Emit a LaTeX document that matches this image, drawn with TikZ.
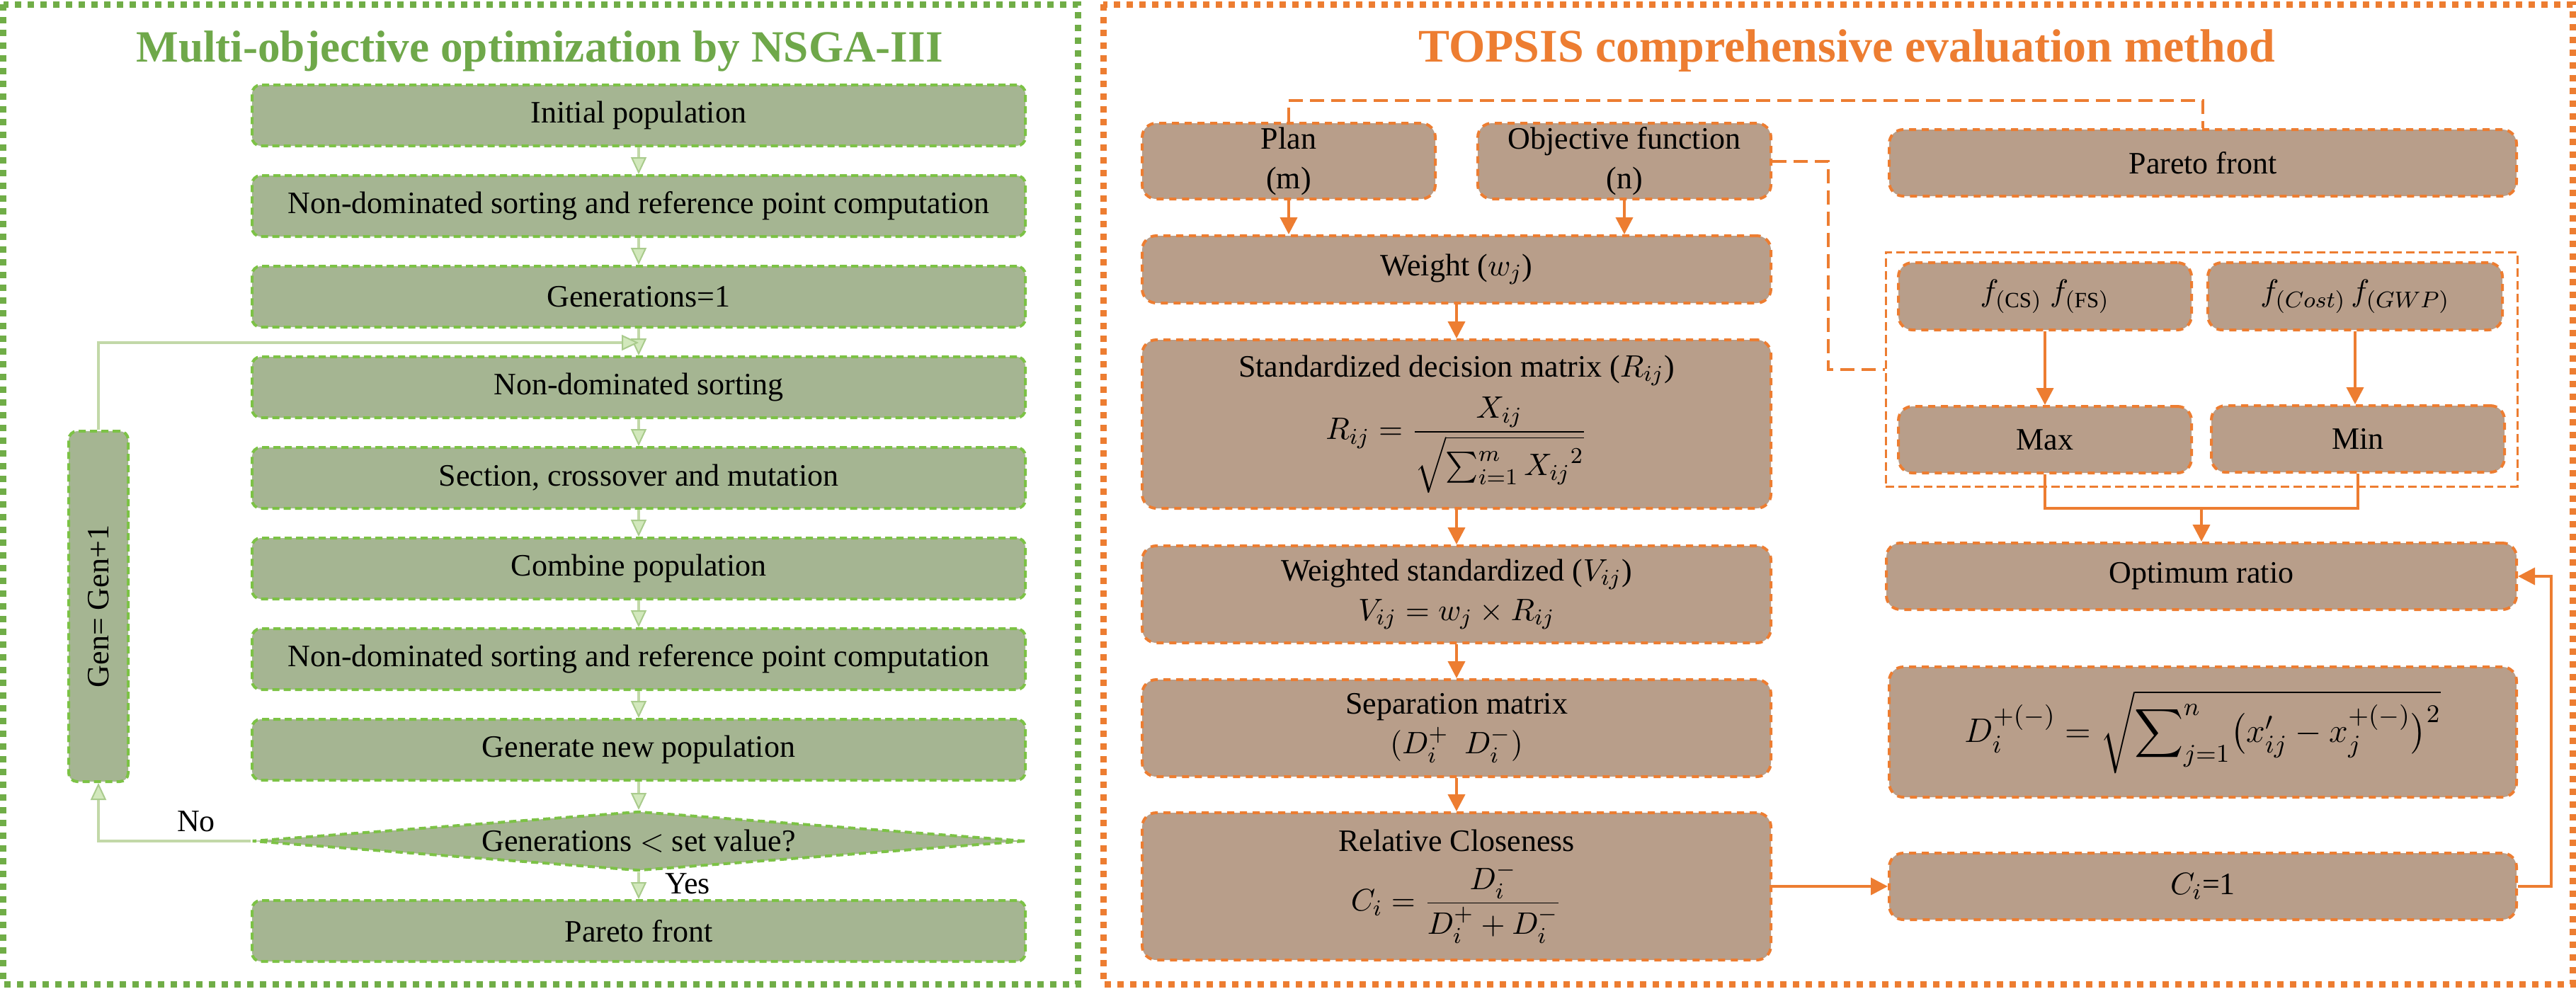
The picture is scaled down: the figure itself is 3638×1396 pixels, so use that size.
\documentclass[tikz,border=0pt]{standalone}
\usepackage{amsmath}
\usepackage{fontspec}
\setmainfont{Liberation Serif}
\usetikzlibrary{arrows.meta,shapes.geometric}
\definecolor{gpanel}{HTML}{70AD47}
\definecolor{gtitle}{HTML}{6FA84A}
\definecolor{gline}{HTML}{7CC245}
\definecolor{gfill}{HTML}{A5B592}
\definecolor{gconn}{HTML}{C2D8A8}
\definecolor{gtipd}{HTML}{A9CB8C}
\definecolor{gtipf}{HTML}{D2E8BC}
\definecolor{oline}{HTML}{ED7D31}
\definecolor{ofill}{HTML}{B89E8A}
\tikzset{
  panelg/.style={draw=gpanel, line width=2.25pt, dash pattern=on 2.25pt off 2.25pt},
  panelo/.style={draw=oline, line width=2.25pt, dash pattern=on 2.25pt off 2.25pt},
  gbox/.style={draw=gline, fill=gfill, line width=1pt, dash pattern=on 2.5pt off 1.5pt,
    rounded corners=3pt, minimum width=273pt, minimum height=21.5pt, inner sep=0pt,
    align=center, font=\fontsize{11}{13}\selectfont},
  garr/.style={draw=gconn, line width=1pt, -{Triangle[length=6pt,width=5.5pt,color=gtipd,fill=gtipf,line width=0.5pt]}},
  obox/.style={draw=oline, fill=ofill, line width=1pt, dash pattern=on 2.5pt off 2pt,
    rounded corners=5pt, inner sep=0pt, align=center, font=\fontsize{11}{14}\selectfont},
  oarr/.style={draw=oline, line width=1pt, -{Triangle[length=6pt,width=6pt]}},
  oplain/.style={draw=oline, line width=1pt},
  odash/.style={draw=oline, line width=1pt, dash pattern=on 5pt off 2.5pt},
  ogroup/.style={draw=oline, line width=0.75pt, dash pattern=on 3pt off 1.5pt, minimum width=223pt, minimum height=82.75pt, inner sep=0pt},
  lbl/.style={font=\fontsize{11}{13}\selectfont, inner sep=0pt},
}
\begin{document}
\begin{tikzpicture}[x=0.25pt, y=-0.25pt]
\useasboundingbox (0,0) rectangle (3638,1396);
\fill[white] (0,0) rectangle (3638,1396);
% panels
\draw[panelg] (4.5,6) rectangle (1522,1390);
\draw[panelo] (1558,6) rectangle (3633,1390);
% titles
\node[anchor=base, text=gtitle, font=\fontsize{15.8}{19}\selectfont\bfseries] (t1) at (762,87) {Multi-objective optimization by NSGA-III};
\node[anchor=base, text=oline, font=\fontsize{16.5}{20}\selectfont\bfseries] (t2) at (2608,87) {TOPSIS comprehensive evaluation method};

% ---------- left flow ----------
\node[gbox] (b1) at (902,163) {Initial population};
\node[gbox] (b2) at (902,291) {Non-dominated sorting and reference point computation};
\node[gbox] (b3) at (902,419) {Generations=1};
\node[gbox] (b4) at (902,547) {Non-dominated sorting};
\node[gbox] (b5) at (902,675) {Section, crossover and mutation};
\node[gbox] (b6) at (902,803) {Combine population};
\node[gbox] (b7) at (902,931) {Non-dominated sorting and reference point computation};
\node[gbox] (b8) at (902,1059) {Generate new population};
\node[draw=gline, fill=gfill, line width=1pt, dash pattern=on 2.5pt off 1.5pt, diamond, inner sep=0pt, minimum width=273pt, minimum height=21pt] (dec) at (902,1188) {};
\node[lbl] (dect) at (dec) {Generations $<$ set value?};
\node[gbox] (b9) at (902,1315) {Pareto front};
\node[gbox, minimum width=21pt, minimum height=123.75pt] (gen) at (139,856.5) {\rotatebox{90}{Gen=\ Gen+1}};

\draw[garr] (b1.south) -- (b2.north);
\draw[garr] (b2.south) -- (b3.north);
\draw[garr] (b3.south) -- (b4.north);
\draw[garr] (b4.south) -- (b5.north);
\draw[garr] (b5.south) -- (b6.north);
\draw[garr] (b6.south) -- (b7.north);
\draw[garr] (b7.south) -- (b8.north);
\draw[garr] (b8.south) -- (dec.north);
\draw[garr] (dec.south) -- (b9.north);
\draw[garr] (dec.west) -| (gen.south);
\coordinate (lj) at (902,484);
\draw[garr] (gen.north) |- (lj);
\node[lbl] (no) at (277,1160) {No};
\node[lbl] (yes) at (971,1248) {Yes};

% ---------- right flow ----------
\node[obox, minimum width=103.5pt, minimum height=26.75pt] (plan) at (1820,227.5) {Plan\\(m)};
\node[obox, minimum width=103.5pt, minimum height=26.75pt] (obj) at (2294,227.5) {Objective function\\(n)};
\node[obox, minimum width=222pt, minimum height=23.75pt] (wt) at (2057,380.5) {Weight ($w_j$)};
\node[obox, minimum width=222pt, minimum height=59.5pt] (sdm) at (2057,599) {Standardized decision matrix ($R_{ij}$)\\[3pt] $R_{ij}=\dfrac{X_{ij}}{\sqrt{\sum_{i=1}^{m}{X_{ij}}^{2}}}$};
\node[obox, minimum width=222pt, minimum height=34.25pt] (wsd) at (2057,839.5) {Weighted standardized ($V_{ij}$)\\ $V_{ij}=w_j\times R_{ij}$};
\node[obox, minimum width=222pt, minimum height=34.25pt] (sep) at (2057,1028.5) {Separation matrix\\ $(D_i^{+}\ \ D_i^{-})$};
\node[obox, minimum width=222pt, minimum height=52pt] (rc) at (2057,1252) {Relative Closeness\\[3pt] $C_i=\dfrac{D_i^{-}}{D_i^{+}+D_i^{-}}$};

\node[obox, minimum width=221.5pt, minimum height=23.5pt] (pf) at (3111,230) {Pareto front};
\node[ogroup] (grp) at (3109,521.5) {};
\node[obox, minimum width=103.5pt, minimum height=23.75pt] (fcs) at (2888,418.5) {$f_{(\mathrm{CS})}\ f_{(\mathrm{FS})}$};
\node[obox, minimum width=104pt, minimum height=23.75pt] (fco) at (3326,418.5) {$f_{(Cost)}\,f_{(GWP)}$};
\node[obox, minimum width=103.5pt, minimum height=23.5pt] (max) at (2888,621) {Max};
\node[obox, minimum width=103.5pt, minimum height=23.5pt] (min) at (3330,620) {Min};
\node[obox, minimum width=222.5pt, minimum height=23.5pt] (opt) at (3109,814) {Optimum ratio};
\node[obox, minimum width=221.5pt, minimum height=46pt] (dd) at (3111,1034) {\fontsize{13}{16}\selectfont$\displaystyle D_i^{+(-)}=\sqrt{\sum\nolimits_{j=1}^{n}\bigl(x'_{ij}-x_j^{+(-)}\bigr)^{2}}$};
\node[obox, minimum width=221.5pt, minimum height=23.5pt] (ci) at (3111,1252) {$C_i$=1};

\draw[oarr] (plan.south) -- (plan.south |- wt.north);
\draw[oarr] (obj.south) -- (obj.south |- wt.north);
\draw[oarr] (wt.south) -- (sdm.north);
\draw[oarr] (sdm.south) -- (wsd.north);
\draw[oarr] (wsd.south) -- (sep.north);
\draw[oarr] (sep.south) -- (rc.north);
\draw[oarr] (rc.east) -- (ci.west);
\coordinate (rl) at (3603,1252);
\draw[oarr] (ci.east) -- (rl) |- (opt.east);
\draw[oarr] (fcs.south) -- (max.north);
\draw[oarr] (fco.south) -- (fco.south |- min.north);
\coordinate (jm) at (3109,718);
\draw[oplain] (max.south) -- (max.south |- jm) -- (min.south |- jm) -- (min.south);
\draw[oarr] (jm) -- (opt.north);
\draw[odash] (plan.north) -- ++(0,-30) -| (pf.north);
\coordinate (oc) at (2582,227.5);
\draw[odash] (obj.east) -- (oc) |- (grp.west);
\end{tikzpicture}
\end{document}
